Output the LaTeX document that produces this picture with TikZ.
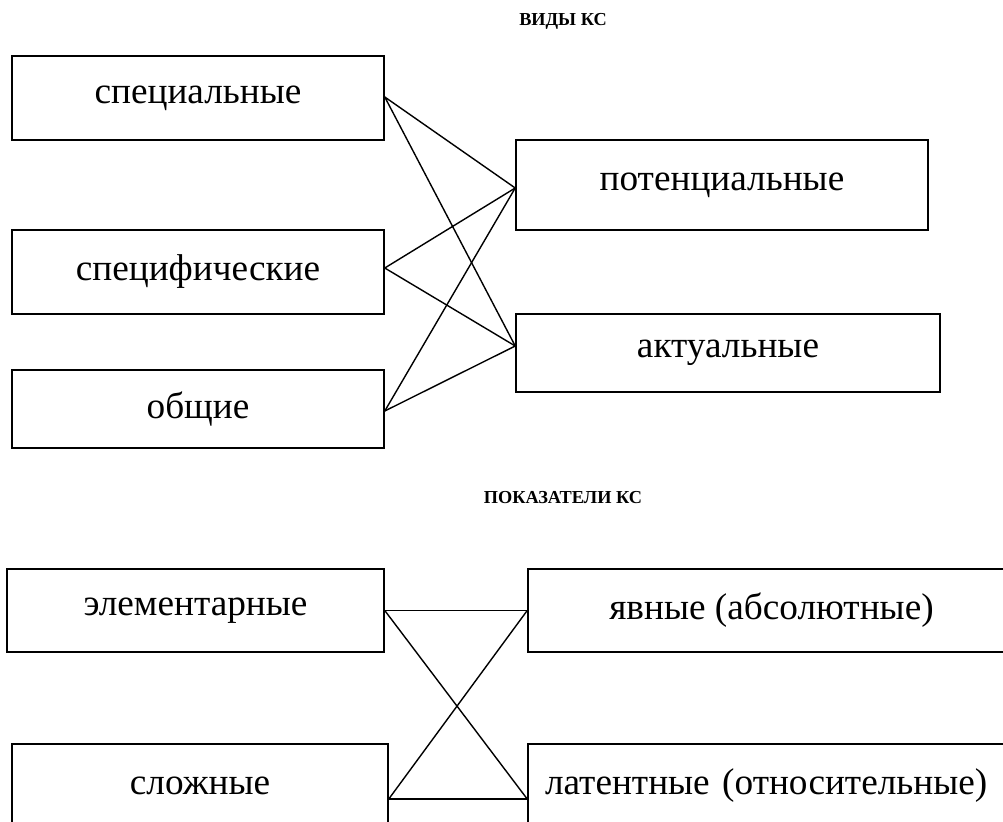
\documentclass[tikz,border=0pt]{standalone}
\usepackage{fontspec}
\setmainfont{Liberation Serif}
\usetikzlibrary{calc}

\begin{document}
\begin{tikzpicture}[x=0.025cm, y=-0.025cm, font=\fontsize{26.5}{31}\selectfont,
    every node/.style={align=center},
    kbox/.style={draw, line width=1.1pt, inner sep=0pt},
    title/.style={font=\fontsize{13}{16}\selectfont\bfseries},
    link/.style={line width=1pt}]
  \useasboundingbox (0,0) rectangle (1003,821);
  \def\px{0.025cm}
  % titles
  \node[title] (vidy) at (563,21) {ВИДЫ КС};
  \node[title] (pokaz) at (563,498) {ПОКАЗАТЕЛИ КС};
  % boxes: name / centre x / centre y / width / height / text
  \foreach \nm/\cx/\cy/\w/\h/\lbl in {
    spec/198/98/372/84/специальные,
    specif/198/272/372/84/специфические,
    obsh/198/409/372/78/общие,
    pot/722/185/412/90/потенциальные,
    akt/728/353/424/78/актуальные,
    elem/195.5/610.5/377/83/элементарные,
    yavn/771.5/610.5/487/83/явные (абсолютные),
    slozh/200/785.5/376/83/сложные}
  {
    \node[kbox, minimum width=\w*\px, minimum height=\h*\px] (\nm) at (\cx,\cy) {\lbl};
  }
  \node[kbox, minimum width=487*\px, minimum height=83*\px, text width=453*\px,
        inner xsep=17*\px, align=left] (latent) at (771.5,785.5) {латентные (относительные)};
  % attach points
  \foreach \nm/\side/\dy in {spec/east/-1, specif/east/-4, obsh/east/2,
                             pot/west/3, akt/west/-7,
                             elem/east/0, yavn/west/0,
                             slozh/east/13.5, latent/west/13.5}
    \coordinate (\nm-p) at ($(\nm.\side)+(0,\dy)$);
  % connectors
  \foreach \a/\b in {spec/pot, spec/akt, specif/pot, specif/akt, obsh/pot, obsh/akt,
                     elem/yavn, elem/latent, slozh/yavn, slozh/latent}
    \draw[link] (\a-p) -- (\b-p);
\end{tikzpicture}
\end{document}
